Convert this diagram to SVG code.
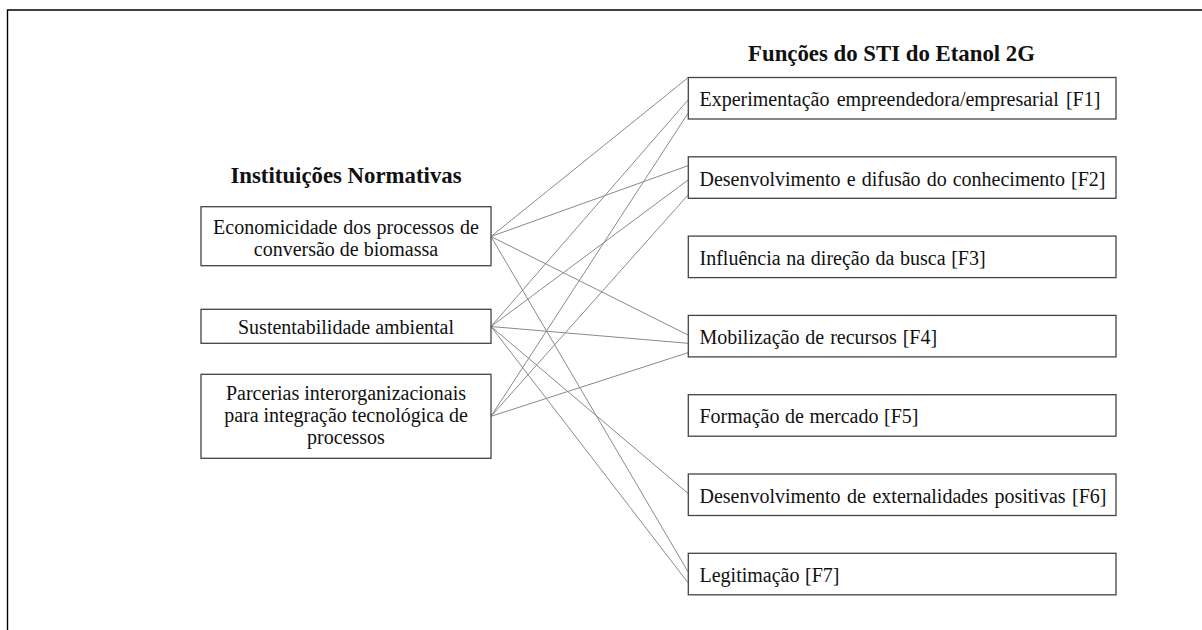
<svg xmlns="http://www.w3.org/2000/svg" width="1202" height="630" viewBox="0 0 1202 630">
  <style>
    .frame { fill: none; stroke: #000; stroke-width: 1.4; }
    .box { fill: #fff; stroke: #444; stroke-width: 1.3; }
    .link { fill: none; stroke: #8a8a8a; stroke-width: 1; }
    .title { font-family: "Liberation Serif", "Times New Roman", serif; font-size: 22.8px; font-weight: bold; fill: #111; }
    .label { font-family: "Liberation Serif", "Times New Roman", serif; font-size: 20px; fill: #111; }
    .mid { text-anchor: middle; }
  </style>
  <rect width="1202" height="630" fill="#fff"/>

  <!-- page frame (left and top edges only) -->
  <path class="frame" d="M7.5 630 V10 H1202"/>

  <!-- headings -->
  <text class="title mid" x="346" y="183">Instituições Normativas</text>
  <text class="title mid" x="891.5" y="61">Funções do STI do Etanol 2G</text>

  <!-- connectors: normative institutions to system functions -->
  <g id="connectors">
    <line class="link" x1="491" y1="236.5" x2="688" y2="77.7"/>
    <line class="link" x1="491" y1="236.5" x2="688" y2="165.7"/>
    <line class="link" x1="491" y1="236.5" x2="688" y2="335"/>
    <line class="link" x1="491" y1="236.5" x2="688" y2="571.7"/>
    <line class="link" x1="491" y1="326.5" x2="688" y2="100"/>
    <line class="link" x1="491" y1="326.5" x2="688" y2="180"/>
    <line class="link" x1="491" y1="326.5" x2="688" y2="343.3"/>
    <line class="link" x1="491" y1="326.5" x2="688" y2="493.3"/>
    <line class="link" x1="491" y1="326.5" x2="688" y2="582.7"/>
    <line class="link" x1="491" y1="416.3" x2="688" y2="113.3"/>
    <line class="link" x1="491" y1="416.3" x2="688" y2="195"/>
    <line class="link" x1="491" y1="416.3" x2="688" y2="352.7"/>
  </g>

  <!-- left column: normative institutions -->
  <g id="inst-economicidade">
    <rect class="box" x="201" y="206.7" width="290" height="59"/>
    <text class="label mid" x="346" y="233.5" word-spacing="0.7">Economicidade dos processos de</text>
    <text class="label mid" x="346" y="256">conversão de biomassa</text>
  </g>
  <g id="inst-sustentabilidade">
    <rect class="box" x="201" y="309.3" width="290" height="34"/>
    <text class="label mid" x="346" y="334">Sustentabilidade ambiental</text>
  </g>
  <g id="inst-parcerias">
    <rect class="box" x="201" y="374.3" width="290" height="84"/>
    <text class="label mid" x="346" y="400">Parcerias interorganizacionais</text>
    <text class="label mid" x="346" y="422">para integração tecnológica de</text>
    <text class="label mid" x="346" y="444">processos</text>
  </g>

  <!-- right column: system functions -->
  <g id="f1">
    <rect class="box" x="688.3" y="77.5" width="427.7" height="41.5"/>
    <text class="label" x="699.5" y="106.2" word-spacing="2.2">Experimentação empreendedora/empresarial [F1]</text>
  </g>
  <g id="f2">
    <rect class="box" x="688.3" y="156.8" width="427.7" height="41.5"/>
    <text class="label" x="699.5" y="185.5" word-spacing="1.1">Desenvolvimento e difusão do conhecimento [F2]</text>
  </g>
  <g id="f3">
    <rect class="box" x="688.3" y="236.1" width="427.7" height="41.5"/>
    <text class="label" x="699.5" y="264.8" word-spacing="0.7">Influência na direção da busca [F3]</text>
  </g>
  <g id="f4">
    <rect class="box" x="688.3" y="315.4" width="427.7" height="41.5"/>
    <text class="label" x="699.5" y="344.1" word-spacing="0.9">Mobilização de recursos [F4]</text>
  </g>
  <g id="f5">
    <rect class="box" x="688.3" y="394.7" width="427.7" height="41.5"/>
    <text class="label" x="699.5" y="423.4" word-spacing="0.6">Formação de mercado [F5]</text>
  </g>
  <g id="f6">
    <rect class="box" x="688.3" y="474" width="427.7" height="41.5"/>
    <text class="label" x="699.5" y="502.7" word-spacing="1.5">Desenvolvimento de externalidades positivas [F6]</text>
  </g>
  <g id="f7">
    <rect class="box" x="688.3" y="553.3" width="427.7" height="41.5"/>
    <text class="label" x="699.5" y="582" word-spacing="0.6">Legitimação [F7]</text>
  </g>
</svg>
